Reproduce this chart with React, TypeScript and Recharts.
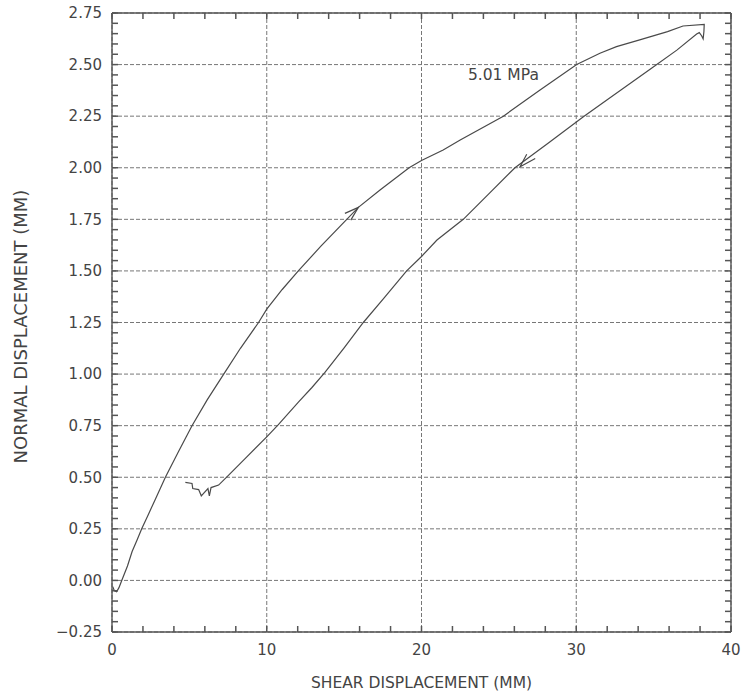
import React from 'react';
import { LineChart, Line, XAxis, YAxis, CartesianGrid, ReferenceDot } from 'recharts';

const xMajorTicks = [0, 10, 20, 30, 40];
const yMajorTicks = [-0.25, 0, 0.25, 0.5, 0.75, 1, 1.25, 1.5, 1.75, 2, 2.25, 2.5, 2.75];
const xMinorTicks = [0, 2, 4, 6, 8, 10, 12, 14, 16, 18, 20, 22, 24, 26, 28, 30, 32, 34, 36, 38, 40];
const yMinorTicks = Array.from({ length: 61 }, (_, i) => Math.round((-0.25 + i * 0.05) * 100) / 100);
const xDomain = [0, 40];
const yDomain = [-0.25, 2.75];

const xTitle = 'SHEAR DISPLACEMENT (MM)';
const yTitle = 'NORMAL DISPLACEMENT (MM)';
const pressureLabel = '5.01 MPa';

// loading branch (shear forward)
const loadingPath = [
  { x: 0.05, y: -0.03 }, { x: 0.15, y: -0.05 }, { x: 0.3, y: -0.055 }, { x: 0.45, y: -0.035 },
  { x: 0.63, y: 0 }, { x: 1.0, y: 0.07 }, { x: 1.3, y: 0.14 }, { x: 1.62, y: 0.196 },
  { x: 1.92, y: 0.25 }, { x: 2.35, y: 0.32 }, { x: 2.78, y: 0.39 }, { x: 3.45, y: 0.5 },
  { x: 4.3, y: 0.625 }, { x: 5.17, y: 0.75 }, { x: 6.15, y: 0.875 }, { x: 7.22, y: 1.0 },
  { x: 8.3, y: 1.125 }, { x: 9.47, y: 1.25 }, { x: 10, y: 1.315 }, { x: 11, y: 1.41 },
  { x: 12.04, y: 1.5 }, { x: 13.5, y: 1.62 }, { x: 15.17, y: 1.75 }, { x: 15.92, y: 1.808 },
  { x: 17.32, y: 1.892 }, { x: 19.2, y: 2.0 }, { x: 20, y: 2.035 }, { x: 21.4, y: 2.086 },
  { x: 22.5, y: 2.134 }, { x: 25.29, y: 2.25 }, { x: 27.66, y: 2.377 }, { x: 30.03, y: 2.5 },
  { x: 31.53, y: 2.555 }, { x: 32.6, y: 2.587 }, { x: 34.1, y: 2.62 }, { x: 35.9, y: 2.66 },
  { x: 36.9, y: 2.687 }, { x: 38.27, y: 2.695 },
];

// unloading branch (shear reversed)
const unloadingPath = [
  { x: 38.25, y: 2.66 }, { x: 38.2, y: 2.625 }, { x: 38.1, y: 2.64 }, { x: 37.95, y: 2.655 },
  { x: 37.78, y: 2.648 }, { x: 36.5, y: 2.57 }, { x: 35.0, y: 2.49 }, { x: 33.5, y: 2.41 },
  { x: 32.0, y: 2.33 }, { x: 30.46, y: 2.247 }, { x: 28.2, y: 2.12 }, { x: 26.04, y: 2.0 },
  { x: 24.3, y: 1.87 }, { x: 22.7, y: 1.75 }, { x: 21.0, y: 1.65 }, { x: 20, y: 1.57 },
  { x: 19.04, y: 1.5 }, { x: 17.6, y: 1.37 }, { x: 16.24, y: 1.25 }, { x: 15.0, y: 1.127 },
  { x: 13.76, y: 1.008 }, { x: 12.92, y: 0.935 }, { x: 12.06, y: 0.865 }, { x: 10.75, y: 0.755 },
  { x: 10, y: 0.696 }, { x: 8.6, y: 0.59 }, { x: 7.54, y: 0.51 }, { x: 6.89, y: 0.462 },
  { x: 6.4, y: 0.45 }, { x: 6.29, y: 0.41 }, { x: 6.2, y: 0.445 }, { x: 5.77, y: 0.41 },
  { x: 5.6, y: 0.44 }, { x: 5.22, y: 0.445 }, { x: 5.17, y: 0.47 }, { x: 4.74, y: 0.475 },
];

const arrowLoading = [{ x: 15.05, y: 1.779 }, { x: 15.92, y: 1.808 }, { x: 15.43, y: 1.746 }];
const arrowUnloading = [{ x: 26.8, y: 2.065 }, { x: 26.37, y: 2.005 }, { x: 27.35, y: 2.045 }];

const curve = [...loadingPath, ...unloadingPath];

const FONT = '"DejaVu Sans", sans-serif';
const TEXT = '#444';
const FRAME = '#555';
const LINE = '#4a4a4a';

const fmtY = (v: number) => (v < 0 ? '\u2212' + Math.abs(v).toFixed(2) : v.toFixed(2));

// inward minor tick marks drawn by the axis itself (custom tick renderer)
const InTick = (side: 'bottom' | 'top' | 'left' | 'right') => (p: any) => {
  const L = 6;
  const dx = side === 'left' ? L : side === 'right' ? -L : 0;
  const dy = side === 'bottom' ? -L : side === 'top' ? L : 0;
  return (
    <path d={`M${p.x},${p.y}L${p.x + dx},${p.y + dy}`} stroke={FRAME} strokeWidth={1.5} fill="none" />
  );
};

export default function App() {
  return (
    <div style={{ position: 'absolute', left: 0, top: 0 }}>
      <LineChart width={751} height={693} margin={{ top: 13, right: 20, bottom: 0, left: 0 }}>
        <CartesianGrid stroke="#777" strokeDasharray="4 2" strokeWidth={1}
          verticalValues={xMajorTicks} horizontalValues={yMajorTicks} />
        <XAxis
          type="number" dataKey="x" domain={xDomain} ticks={xMajorTicks} allowDataOverflow interval={0}
          height={61} tickSize={0} tickMargin={12} stroke={FRAME} strokeWidth={1.4}
          tick={{ fill: TEXT, fontSize: 15, fontFamily: FONT }}
          label={{
            content: ({ viewBox }: any) => (
              <text x={viewBox.x + viewBox.width / 2} y={viewBox.y + 56} textAnchor="middle"
                fill={TEXT} fontSize={15.5} fontFamily={FONT}>{xTitle}</text>
            ),
          }}
        />
        <YAxis
          type="number" domain={yDomain} ticks={yMajorTicks} allowDataOverflow interval={0}
          width={112} tickSize={0} tickMargin={10} stroke={FRAME} strokeWidth={1.4}
          tickFormatter={fmtY}
          tick={{ fill: TEXT, fontSize: 15, fontFamily: FONT }}
          label={{
            content: ({ viewBox }: any) => {
              const cx = 26.5;
              const cy = viewBox.y + viewBox.height / 2 + 4;
              return (
                <text x={cx} y={cy} transform={`rotate(-90 ${cx} ${cy})`} textAnchor="middle"
                  fill={TEXT} fontSize={18} fontFamily={FONT}>{yTitle}</text>
              );
            },
          }}
        />
        <XAxis xAxisId="mb" type="number" dataKey="x" domain={xDomain} ticks={xMinorTicks} allowDataOverflow
          interval={0} orientation="bottom" mirror height={20} tickSize={0} tickMargin={0} tickLine={false}
          axisLine={false} tick={InTick('bottom')} />
        <XAxis xAxisId="mt" type="number" dataKey="x" domain={xDomain} ticks={xMinorTicks} allowDataOverflow
          interval={0} orientation="top" mirror height={20} tickSize={0} tickMargin={0} tickLine={false}
          axisLine={{ stroke: FRAME, strokeWidth: 1.4 }} tick={InTick('top')} />
        <YAxis yAxisId="ml" type="number" domain={yDomain} ticks={yMinorTicks} allowDataOverflow
          interval={0} orientation="left" mirror width={20} tickSize={0} tickMargin={0} tickLine={false}
          axisLine={false} tick={InTick('left')} />
        <YAxis yAxisId="mr" type="number" domain={yDomain} ticks={yMinorTicks} allowDataOverflow
          interval={0} orientation="right" mirror width={20} tickSize={0} tickMargin={0} tickLine={false}
          axisLine={{ stroke: FRAME, strokeWidth: 1.4 }} tick={InTick('right')} />
        <Line data={curve} dataKey="y" xAxisId="mb" yAxisId="ml" stroke="none" dot={false} activeDot={false}
          isAnimationActive={false} legendType="none" />
        <Line data={curve} dataKey="y" xAxisId="mt" yAxisId="mr" stroke="none" dot={false} activeDot={false}
          isAnimationActive={false} legendType="none" />
        <Line data={curve} dataKey="y" type="linear" stroke={LINE} strokeWidth={1.2}
          dot={false} activeDot={false} isAnimationActive={false} />
        <Line data={arrowLoading} dataKey="y" type="linear" stroke={LINE} strokeWidth={1.2}
          dot={false} activeDot={false} isAnimationActive={false} />
        <Line data={arrowUnloading} dataKey="y" type="linear" stroke={LINE} strokeWidth={1.2}
          dot={false} activeDot={false} isAnimationActive={false} />
        <ReferenceDot x={23} y={2.454} r={0} stroke="none" fill="none"
          label={{ value: pressureLabel, position: 'right', offset: 0, fill: TEXT, fontSize: 15.5, fontFamily: FONT }} />
      </LineChart>
    </div>
  );
}
